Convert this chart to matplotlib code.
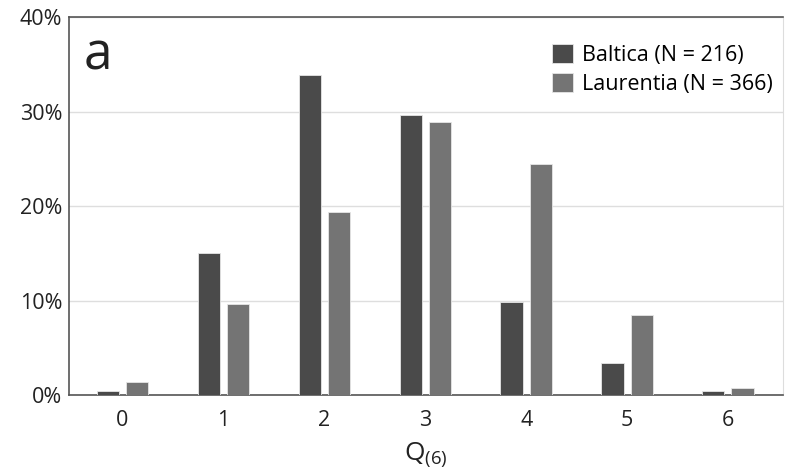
import matplotlib
matplotlib.use("Agg")
import matplotlib.pyplot as plt
import numpy as np
from matplotlib.ticker import PercentFormatter

plt.rcParams['font.family'] = ['Open Sans', 'DejaVu Sans']
plt.rcParams['mathtext.fontset'] = 'custom'
plt.rcParams['mathtext.rm'] = 'Open Sans'
plt.rcParams['mathtext.it'] = 'Open Sans'

categories = [0, 1, 2, 3, 4, 5, 6]
baltica = [0.4, 15.0, 33.9, 29.6, 9.9, 3.4, 0.4]
laurentia = [1.4, 9.7, 19.4, 28.9, 24.5, 8.5, 0.8]
labels = ['Baltica (N = 216)', 'Laurentia (N = 366)']

fig = plt.figure(figsize=(7.85, 4.75), dpi=100)
ax = fig.add_axes([0.088, 0.168, 0.910, 0.796])

x = np.arange(len(categories))
w = 0.22
ax.bar(x - 0.145, baltica, w, color='#4a4a4a', edgecolor='#e6e6e6', linewidth=0.6,
       label=labels[0], zorder=3)
ax.bar(x + 0.145, laurentia, w, color='#747474', edgecolor='#e6e6e6', linewidth=0.6,
       label=labels[1], zorder=3)

ax.set_xlim(-0.53, 6.55)
ax.set_ylim(0, 40)
ax.set_yticks([0, 10, 20, 30, 40])
ax.yaxis.set_major_formatter(PercentFormatter(decimals=0))
ax.set_xticks(x)
ax.set_xticklabels([str(c) for c in categories])
ax.tick_params(length=0, labelsize=15.5, colors='#222222', pad=11)
ax.tick_params(axis='y', pad=5)
ax.grid(axis='y', color='#dedede', linewidth=1, zorder=0)

for s in ['left', 'bottom', 'top']:
    ax.spines[s].set_color('#555555')
    ax.spines[s].set_linewidth(1.2)
ax.spines['right'].set_color('#dddddd')

ax.set_xlabel(r'Q$_{\mathrm{(6)}}$', fontsize=19, color='#222222', labelpad=6)
ax.text(0.021, 0.965, 'a', transform=ax.transAxes, fontsize=37, color='#222222',
        va='top', ha='left')

ax.legend(loc='upper right', bbox_to_anchor=(1.012, 0.98), frameon=False, fontsize=15.5,
          handlelength=1.0, handleheight=1.0, handletextpad=0.4, labelspacing=0.3)

fig.savefig('out.png', dpi=100)
